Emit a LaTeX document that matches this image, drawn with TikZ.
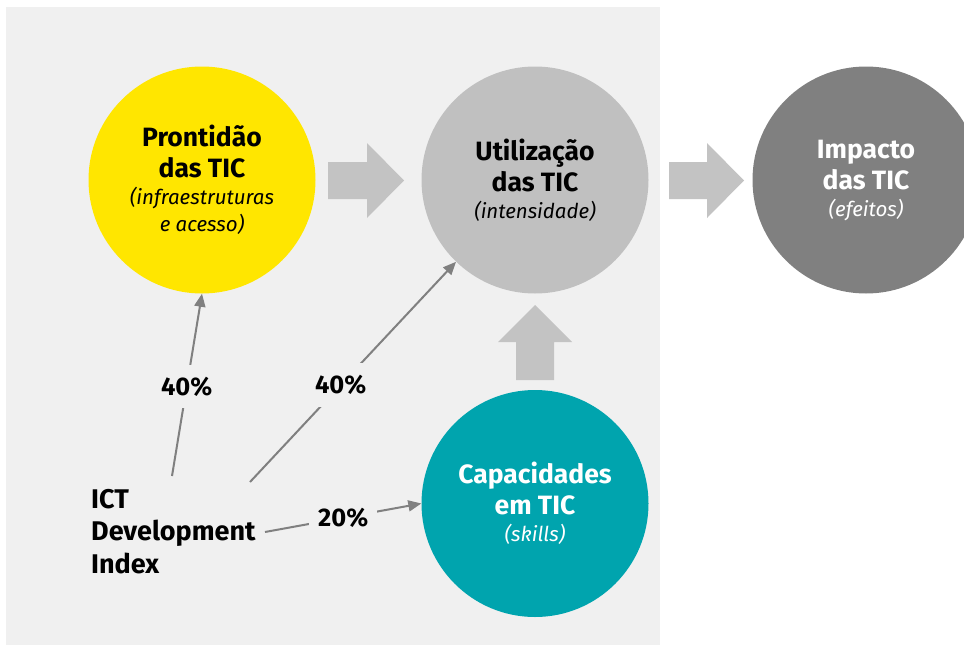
\documentclass[tikz,border=0pt]{standalone}
\usepackage{fontspec}
\setmainfont{Fira Sans}
\usepackage{xcolor}
\usepackage{tikz}
\usetikzlibrary{arrows.meta}
\definecolor{ticyellow}{HTML}{FFE600}
\definecolor{ticgray}{HTML}{C0C0C0}
\definecolor{ticdark}{HTML}{808080}
\definecolor{ticteal}{HTML}{00A4AE}
\definecolor{bggray}{HTML}{F0F0F0}
\definecolor{flowgray}{HTML}{C3C3C3}
\definecolor{linegray}{HTML}{808080}
\newcommand{\subtxt}[1]{{\mdseries\itshape\fontsize{20.5}{27}\selectfont #1}}
\tikzset{
    cnode/.style = {circle, minimum size=227pt, inner sep=0pt, align=center,
                    font=\bfseries\fontsize{26.5}{31}\selectfont},
    yellow_node/.style = {cnode, fill=ticyellow, text=black},
    gray_node/.style = {cnode, fill=ticgray, text=black},
    dark_node/.style = {cnode, fill=ticdark, text=white},
    teal_node/.style = {cnode, fill=ticteal, text=white},
    idx/.style = {align=left, inner sep=0pt, font=\bfseries\fontsize{27}{32.5}\selectfont},
    pct/.style = {fill=bggray, inner xsep=9pt, inner ysep=12pt, font=\bfseries\fontsize{25.5}{28}\selectfont},
    link/.style = {draw=linegray, line width=2pt, -{Triangle[length=13pt, width=11pt]}},
    flow/.style = {fill=flowgray}
}
\begin{document}
\begin{tikzpicture}[x=1pt, y=-1pt]
    \useasboundingbox (0,0) rectangle (964,645);
    \fill[bggray] (6,7) rectangle (660,645);

    % circles
    \node [yellow_node] (prontidao) at (202,180)
        {Prontidão\\das TIC\\[-4pt]\subtxt{(infraestruturas}\\[-4pt]\subtxt{e acesso)}};
    \node [gray_node] (utilizacao) at (535,180)
        {Utilização\\das TIC\\[-4pt]\subtxt{(intensidade)}};
    \node [dark_node] (impacto) at (866,180)
        {Impacto\\das TIC\\[-4pt]\subtxt{(efeitos)}};
    \node [teal_node] (capacidades) at (535,503.5)
        {Capacidades\\em TIC\\[-4pt]\subtxt{(skills)}};

    % block arrows
    \fill[flow] (328,162) -- (367,162) -- (367,143) -- (404,180.5)
        -- (367,218) -- (367,199) -- (328,199) -- cycle;
    \fill[flow] (669,162) -- (707,162) -- (707,143) -- (744,180.5)
        -- (707,218) -- (707,199) -- (669,199) -- cycle;
    \fill[flow] (516,380) -- (516,342) -- (498,342) -- (535,305)
        -- (572,342) -- (554,342) -- (554,380) -- cycle;

    % index
    \node [idx, anchor=north west] (ict) at (91,489) {ICT\\Development\\Index};
    \coordinate (s1) at (172,476);
    \coordinate (s2) at (250,482);
    \coordinate (s3) at (265,532);

    \draw [link] (s1) -- node [pct, pos=0.49] (p1) {40\%} (prontidao.-90);
    \draw [link] (s2) -- node [pct, pos=0.44] (p2) {40\%} (utilizacao.226);
    \draw [link] (s3) -- node [pct, pos=0.5] (p3) {20\%} (capacidades.west);
\end{tikzpicture}
\end{document}
